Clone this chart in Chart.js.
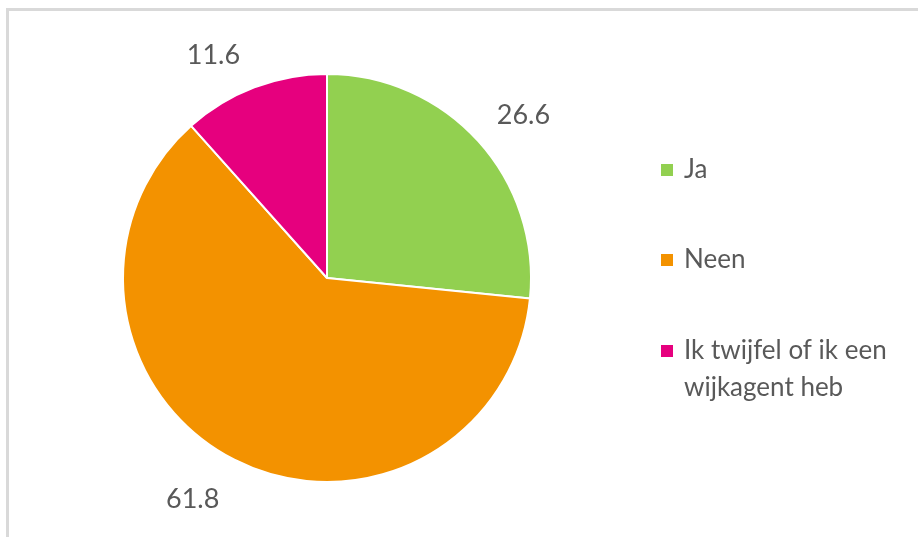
<!DOCTYPE html>
<html>
<head>
<meta charset="utf-8">
<script src="https://cdn.jsdelivr.net/npm/chart.js@4.4.0/dist/chart.umd.min.js"></script>
<style>
  html, body { margin: 0; padding: 0; background: #fff; width: 918px; height: 537px; overflow: hidden; }
  #frame { position: absolute; left: 6px; top: 8px; width: 940px; height: 560px; border-left: 3px solid #d9d9d9; border-top: 3px solid #d9d9d9; }
  #wrap { position: absolute; left: 0; top: 0; width: 918px; height: 537px; }
</style>
</head>
<body>
<div id="frame"></div>
<div id="wrap"><canvas id="c" width="918" height="537"></canvas></div>
<script>
const categories = ["Ja", "Neen", "Ik twijfel of ik een wijkagent heb"];
const values = [26.6, 61.8, 11.6];
const colors = ["#92d050", "#f39200", "#e6007e"];

const textColor = "#595959";
const fontFamily = "Lato, 'Open Sans', sans-serif";

const outsideLabels = {
  id: "outsideLabels",
  afterDatasetsDraw(chart, args, opts) {
    const ctx = chart.ctx;
    const meta = chart.getDatasetMeta(0);
    const nudges = opts.nudges || [];
    ctx.save();
    ctx.fillStyle = textColor;
    ctx.font = "27px " + fontFamily;
    ctx.textAlign = "center";
    ctx.textBaseline = "middle";
    meta.data.forEach((arc, i) => {
      const p = arc.getProps(["x", "y", "startAngle", "endAngle", "outerRadius"], true);
      const mid = (p.startAngle + p.endAngle) / 2;
      const r = p.outerRadius + 50;
      const n = nudges[i] || [0, 0];
      ctx.fillText(values[i].toFixed(1), p.x + Math.cos(mid) * r + n[0], p.y + Math.sin(mid) * r + n[1]);
    });
    ctx.restore();
  }
};

const sideLegend = {
  id: "sideLegend",
  afterDraw(chart) {
    const ctx = chart.ctx;
    const items = Chart.overrides.pie.plugins.legend.labels.generateLabels(chart);
    const x0 = 661, box = 12, textX = 684, maxW = 240, lineH = 37;
    const tops = [170, 260, 351];
    ctx.save();
    ctx.font = "26px " + fontFamily;
    ctx.textBaseline = "middle";
    ctx.textAlign = "left";
    items.forEach((it, i) => {
      const yc = tops[i];
      ctx.fillStyle = it.fillStyle;
      ctx.fillRect(x0, yc - box / 2, box, box);
      ctx.fillStyle = textColor;
      const words = it.text.split(" ");
      const lines = [];
      let cur = "";
      words.forEach(w => {
        const t = cur ? cur + " " + w : w;
        if (ctx.measureText(t).width > maxW && cur) { lines.push(cur); cur = w; } else { cur = t; }
      });
      lines.push(cur);
      lines.forEach((ln, j) => ctx.fillText(ln, textX, yc + j * lineH));
    });
    ctx.restore();
  }
};

new Chart(document.getElementById("c"), {
  type: "pie",
  data: {
    labels: categories,
    datasets: [{
      data: values,
      backgroundColor: colors,
      borderColor: "#ffffff",
      borderWidth: 2
    }]
  },
  options: {
    responsive: false,
    animation: false,
    layout: { padding: { left: 122, right: 386, top: 73, bottom: 54 } },
    plugins: {
      legend: { display: false },
      tooltip: { enabled: false },
      outsideLabels: { nudges: [[8, 8], [-19, -5], [-23, 15]] }
    }
  },
  plugins: [outsideLabels, sideLegend]
});
</script>
</body>
</html>
